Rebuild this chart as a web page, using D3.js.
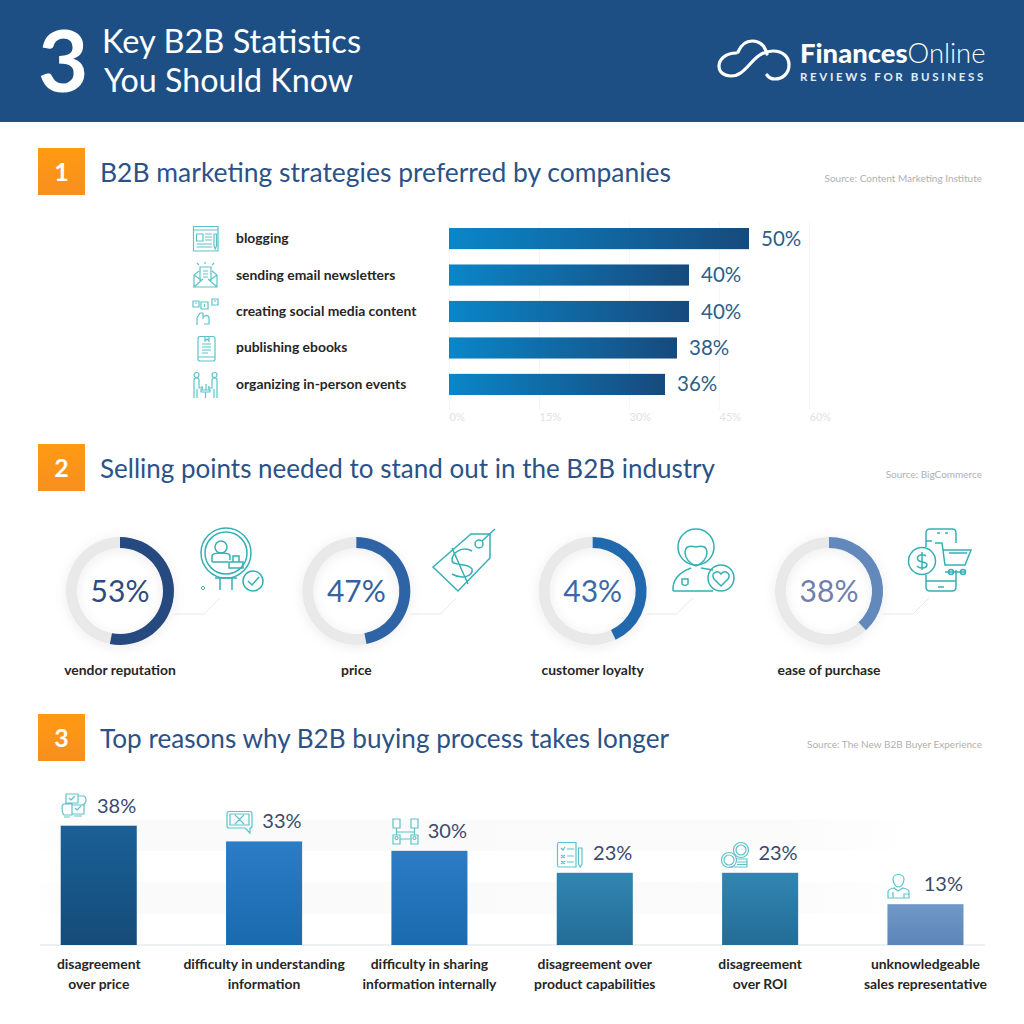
<!DOCTYPE html>
<html>
<head>
<meta charset="utf-8">
<script src="https://d3js.org/d3.v7.min.js"></script>
<style>
  html, body { margin: 0; padding: 0; background: #fff; }
  svg { display: block; font-family: Lato, "Open Sans", sans-serif; }
  .cat { font-size: 13.9px; font-weight: 700; fill: #262626; }
  .title { font-size: 27.5px; fill: #2b5287; }
  .source { font-size: 10px; fill: #b0b0b0; text-anchor: end; }
  .icon * { fill: none; stroke: #5cc3c9; stroke-width: 1.2; }
  .bigicon * { fill: none; stroke: #35b0b4; stroke-width: 1.5; }
</style>
</head>
<body>
<svg id="chart" width="1024" height="1024"></svg>
<script>
// section 1
var strategyLabels = ['blogging', 'sending email newsletters', 'creating social media content', 'publishing ebooks', 'organizing in-person events'];
var strategyValues = [50, 40, 40, 38, 36];
var strategyTicks = [0, 15, 30, 45, 60];

// section 2
var pointLabels = ['vendor reputation', 'price', 'customer loyalty', 'ease of purchase'];
var pointValues = [53, 47, 43, 38];
var pointColors = ['#27487f', '#2d64a6', '#2468ad', '#6489bc'];
var pointTextColors = ['#2f4a7c', '#35619e', '#3b6aa6', '#6f80ae'];

// section 3
var reasonLines = [
  ['disagreement', 'over price'],
  ['difficulty in understanding', 'information'],
  ['difficulty in sharing', 'information internally'],
  ['disagreement over', 'product capabilities'],
  ['disagreement', 'over ROI'],
  ['unknowledgeable', 'sales representative']
];
var reasonValues = [38, 33, 30, 23, 23, 13];
var reasonColors = [['#1a6096', '#154b78'], ['#2c7cc6', '#1a6aae'], ['#2c7cc6', '#1a6aae'], ['#3285b2', '#236d96'], ['#3285b2', '#236d96'], ['#7199c8', '#5c84b6']];
var stripeBands = [[40, 30], [20, 10]];

var sections = [
  { n: '1', title: 'B2B marketing strategies preferred by companies', width: 571, source: 'Source: Content Marketing Institute', y: 148 },
  { n: '2', title: 'Selling points needed to stand out in the B2B industry', width: 615, source: 'Source: BigCommerce', y: 444 },
  { n: '3', title: 'Top reasons why B2B buying process takes longer', width: 569, source: 'Source: The New B2B Buyer Experience', y: 714 }
];

var svg = d3.select('#chart');
var defs = svg.append('defs');

function gradient(id, c0, c1, vertical) {
  var g = defs.append('linearGradient').attr('id', id)
    .attr('x1', 0).attr('y1', 0)
    .attr('x2', vertical ? 0 : 1).attr('y2', vertical ? 1 : 0);
  g.append('stop').attr('offset', 0).attr('stop-color', c0);
  g.append('stop').attr('offset', 1).attr('stop-color', c1);
}

gradient('hbar', '#0a86c8', '#174a7c');
gradient('orange', '#ff9a12', '#f78f1e', true);
reasonColors.forEach(function(c, i) { gradient('col' + i, c[0], c[1], true); });
var stripeGrad = defs.append('linearGradient').attr('id', 'stripe');
stripeGrad.append('stop').attr('offset', 0).attr('stop-color', '#ffffff');
stripeGrad.append('stop').attr('offset', 0.08).attr('stop-color', '#fafafb');
stripeGrad.append('stop').attr('offset', 0.85).attr('stop-color', '#fbfbfb');
stripeGrad.append('stop').attr('offset', 1).attr('stop-color', '#ffffff');
defs.append('filter').attr('id', 'soft').attr('x', '-30%').attr('y', '-30%').attr('width', '160%').attr('height', '160%')
  .append('feDropShadow').attr('dx', 0).attr('dy', 2).attr('stdDeviation', 6).attr('flood-color', '#000').attr('flood-opacity', 0.08);

drawHeader();
sections.forEach(drawSectionHead);
drawStrategies();
drawPoints();
drawReasons();

function drawHeader() {
  var h = svg.append('g');
  h.append('rect').attr('width', 1024).attr('height', 122).attr('fill', '#1d4f85');
  h.append('text').attr('x', 38).attr('y', 92).attr('font-size', 87).attr('font-weight', 700).attr('fill', '#fff').text('3');
  h.append('text').attr('x', 102).attr('y', 53).attr('font-size', 33).attr('textLength', 259).attr('lengthAdjust', 'spacingAndGlyphs').attr('fill', '#fff').text('Key B2B Statistics');
  h.append('text').attr('x', 104).attr('y', 92).attr('font-size', 33).attr('textLength', 249).attr('lengthAdjust', 'spacingAndGlyphs').attr('fill', '#fff').text('You Should Know');

  var cloud = h.append('g').attr('fill', 'none').attr('stroke', '#fff').attr('stroke-width', 3.2).attr('stroke-linecap', 'round');
  cloud.append('path').attr('d', 'M736 53C725 53 719 60 719 66C719 73 725 76 731 76C748 76 752 51 773 51C783 51 789 57 789 65C789 73 783 79 775 79C772 79 769 78 767 75');
  cloud.append('path').attr('d', 'M738 52C741 45 746 41 752 41C760 41 765 46 767 54');

  var brand = h.append('text').attr('x', 800).attr('y', 63).attr('font-size', 27.4).attr('fill', '#fff');
  brand.append('tspan').attr('font-weight', 900).text('Finances');
  brand.append('tspan').attr('font-weight', 300).text('Online');
  h.append('text').attr('x', 800).attr('y', 81).attr('font-size', 11.5).attr('font-weight', 700).attr('letter-spacing', 2.65).attr('fill', '#e4ecf4').text('REVIEWS FOR BUSINESS');
}

function drawSectionHead(s) {
  var g = svg.append('g');
  g.append('rect').attr('x', 38).attr('y', s.y).attr('width', 47).attr('height', 47).attr('fill', 'url(#orange)');
  g.append('text').attr('x', 61.5).attr('y', s.y + 33).attr('text-anchor', 'middle').attr('font-size', 25).attr('font-weight', 700).attr('fill', '#fff').text(s.n);
  g.append('text').attr('class', 'title').attr('x', 100).attr('y', s.y + 34)
    .attr('textLength', s.width).attr('lengthAdjust', 'spacingAndGlyphs').text(s.title);
  g.append('text').attr('class', 'source').attr('x', 982).attr('y', s.y + 34).text(s.source);
}

function drawStrategies() {
  var x = d3.scaleLinear().domain([0, 60]).range([449, 809]);
  var y = d3.scaleBand().domain(strategyLabels).range([228, 395]).paddingInner(0.42);

  var axis = d3.axisBottom(x).tickValues(strategyTicks).tickSize(-188).tickFormat(function(d) { return d + '%'; });
  var ax = svg.append('g').attr('transform', 'translate(0,410)').call(axis);
  ax.select('.domain').remove();
  ax.selectAll('line').attr('stroke', '#f6f6f6');
  ax.selectAll('text').attr('text-anchor', 'start').attr('font-family', 'Lato').attr('font-size', 11).attr('fill', '#e2e2e2').attr('y', 3).attr('dy', '0.71em');

  svg.selectAll('.hbar').data(strategyValues).enter().append('rect')
    .attr('class', 'hbar')
    .attr('x', x(0))
    .attr('y', function(d, i) { return y(strategyLabels[i]); })
    .attr('width', function(d) { return x(d) - x(0); })
    .attr('height', y.bandwidth())
    .attr('fill', 'url(#hbar)');

  svg.selectAll('.hval').data(strategyValues).enter().append('text')
    .attr('x', function(d) { return x(d) + 12; })
    .attr('y', function(d, i) { return y(strategyLabels[i]) + y.bandwidth() / 2 + 7; })
    .attr('font-size', 20.5).attr('fill', '#2c5f8c')
    .text(function(d) { return d + '%'; });

  svg.selectAll('.hcat').data(strategyLabels).enter().append('text')
    .attr('class', 'cat')
    .attr('x', 236)
    .attr('y', function(d) { return y(d) + y.bandwidth() / 2 + 4.5; })
    .text(function(d) { return d; });

  smallIcons([
    [193, 226, iconBlog], [193, 262, iconMail], [193, 299, iconSocial], [193, 336, iconBook], [193, 372, iconEvent]
  ]);
}

function drawPoints() {
  var cx = d3.scalePoint().domain(pointLabels).range([120, 829]);
  var arc = d3.arc().innerRadius(43).outerRadius(54);
  var pie = d3.pie().sort(null).value(function(d) { return d; });

  pointLabels.forEach(function(label, i) {
    var g = svg.append('g').attr('transform', 'translate(' + cx(label) + ',591)');
    var v = pointValues[i];
    var slices = pie([v, 100 - v]);
    var ring = g.append('g').attr('filter', 'url(#soft)');
    ring.append('path').datum(slices[1]).attr('d', arc).attr('fill', '#e9e9ea');
    ring.append('path').datum(slices[0]).attr('d', arc).attr('fill', pointColors[i]);
    g.append('text').attr('text-anchor', 'middle').attr('y', 11).attr('font-size', 30).attr('fill', pointTextColors[i]).text(v + '%');
    g.append('text').attr('class', 'cat').attr('text-anchor', 'middle').attr('y', 84).text(label);
    g.append('path').attr('d', 'M54 23H84L100 7').attr('fill', 'none').attr('stroke', '#e6e8ea').attr('stroke-width', 1);
  });

  var big = svg.append('g').attr('class', 'bigicon');
  iconLens(big);
  iconTag(big);
  iconLoyal(big);
  iconCart(big);
}

function drawReasons() {
  var x = d3.scaleBand().domain(d3.range(reasonValues.length)).range([60.7, 963.5]).paddingInner(0.54);
  var y = d3.scaleLinear().domain([0, 38]).range([945, 825.7]);

  svg.selectAll('.stripe').data(stripeBands).enter().append('rect')
    .attr('x', 30).attr('width', 890)
    .attr('y', function(d) { return y(d[0]); })
    .attr('height', function(d) { return y(d[1]) - y(d[0]); })
    .attr('fill', 'url(#stripe)');

  svg.append('line').attr('x1', 40).attr('x2', 985).attr('y1', y(0)).attr('y2', y(0)).attr('stroke', '#e6ecf1').attr('stroke-width', 1.5);

  svg.selectAll('.col').data(reasonValues).enter().append('rect')
    .attr('class', 'col')
    .attr('x', function(d, i) { return x(i); })
    .attr('y', function(d) { return y(d); })
    .attr('width', x.bandwidth())
    .attr('height', function(d) { return y(0) - y(d); })
    .attr('fill', function(d, i) { return 'url(#col' + i + ')'; });

  svg.selectAll('.cval').data(reasonValues).enter().append('text')
    .attr('x', function(d, i) { return x(i) + x.bandwidth() - 0.5; })
    .attr('y', function(d) { return y(d) - 13; })
    .attr('text-anchor', 'end').attr('font-size', 20).attr('fill', '#3a4a6c')
    .text(function(d) { return d + '%'; });

  reasonLines.forEach(function(lines, i) {
    lines.forEach(function(line, j) {
      svg.append('text').attr('class', 'cat').attr('text-anchor', 'middle')
        .attr('x', x(i) + x.bandwidth() / 2)
        .attr('y', 969 + j * 20)
        .text(line);
    });
  });

  smallIcons([
    [62, 793, iconMeeting], [227, 811, iconChat], [392, 819, iconNodes],
    [557, 842, iconList], [722, 842, iconCoins], [888, 873, iconAgent]
  ]);
}

function smallIcons(list) {
  list.forEach(function(d) {
    var g = svg.append('g').attr('class', 'icon').attr('transform', 'translate(' + d[0] + ',' + d[1] + ')');
    d[2](g);
  });
}

function p(g, d) { return g.append('path').attr('d', d); }
function c(g, x, y, r) { return g.append('circle').attr('cx', x).attr('cy', y).attr('r', r); }

// small icons, drawn in their own 25px box
function iconBlog(g) {
  p(g, 'M.5 .5H25V25H.5ZM.5 4H25M3.5 8H10V15H3.5ZM12 8H19M12 11H19M12 14H19M3.5 18H19M3.5 21H19M21 8H23.5V20L22.2 23L21 20Z');
}
function iconMail(g) {
  p(g, 'M1 25V13L6 9M24 13V25H1L10 17M24 25L15 17M1 13L8 18M24 13L17 18M19 9L24 13M7 20V5H18V20M10 9H15M10 12H15M10 15H15M12 0V2M4 1L6 3M21 1L19 3');
}
function iconSocial(g) {
  p(g, 'M0 2H6V8H0ZM8 3H15V10H8ZM19 0H25V6H19ZM4 26V19L7 14H10V20M10 18C12 16 16 16 16 19V25H11M11.5 5V8M2 4H4M21 2H23');
}
function iconBook(g) {
  p(g, 'M7 .5H20Q22 .5 22 3V23Q22 25 20 25H7Q5 25 5 23V3Q5 .5 7 .5ZM5 21H22M9 8H18M9 11H18M9 14H18M9 17H15M12 0V5L14 3L16 5V0');
}
function iconEvent(g) {
  c(g, 3.5, 3, 2.5); c(g, 21.5, 3, 2.5);
  p(g, 'M1 26V8Q1 6 3.5 6Q6 6 6 8V16H10M24 26V8Q24 6 21.5 6Q19 6 19 8V16H15M4 26V17M21 26V17M8 18H17V20H8ZM12.5 20V26M9 14V18M13 12V18M16 14V18');
}
function iconMeeting(g) {
  p(g, 'M4 1H16V10H4ZM16 3H21Q24 3 24 7Q24 11 20 12M0 14Q0 10 5 11H10V22H2Q0 20 0 14ZM10 12H22V21H10ZM2 24H8M12 23H20M7 5L9 7L13 3M13 15L15 17L19 13');
}
function iconChat(g) {
  p(g, 'M2 .5H23Q25 .5 25 3V15Q25 17 23 17H23V22L18 17H2Q0 17 0 15V3Q0 .5 2 .5ZM3 3H22V14H3ZM8 4L17 13M17 4L8 13');
}
function iconNodes(g) {
  p(g, 'M1 0H8V9H1ZM19 0H26V9H19ZM1 16H8V25H1ZM19 16H26V25H19ZM8 20H19M4.5 9V16M22.5 9V16M4.5 13H22.5');
  c(g, 4.5, 19, 1.5); c(g, 22.5, 19, 1.5);
}
function iconList(g) {
  p(g, 'M2 .5H19V25H2Q.5 25 .5 23V2Q.5 .5 2 .5ZM4 6L6 8L8 5M10 7H17M4 13L8 16M8 13L4 16M10 14H17M4 19L8 22M8 19L4 22M10 20H17M21.5 6H25V22L23.2 25L21.5 22Z');
}
function iconCoins(g) {
  c(g, 19, 8, 7.5); c(g, 19, 8, 5);
  c(g, 7, 18, 7.5); c(g, 7, 18, 5);
  p(g, 'M14 17H25V25H7M15 20H25M15 22.5H25');
}
function iconAgent(g) {
  p(g, 'M5 6C5 0 16 0 16 6C16 11 13 14 10.5 14C8 14 5 11 5 6ZM0 25V19Q0 16 6 15L10 18L15 15Q21 16 21 19V25ZM5 19V25M16 21H21V25H16Z');
}

// big icons for the selling points, in page coordinates
function iconLens(g) {
  c(g, 226, 553, 25); c(g, 226, 553, 21);
  c(g, 221, 547, 6);
  p(g, 'M212 562V556Q212 553 221 553Q230 553 230 556V560M212 562H228M233 556H239V562H233ZM229 562H243V568H229ZM220 578V590M232 578V590M215 578H237');
  c(g, 253, 581, 10);
  p(g, 'M248 581L252 585L259 577');
  p(g, 'M203 586L205 588L203 590L201 588Z').style('stroke-width', 1);
}
function iconTag(g) {
  p(g, 'M433 567L471 534L490 534L490 558L458 591Z');
  c(g, 479, 544, 4);
  p(g, 'M482 541L495 529M472 551C463 546 452 552 452 560C452 567 468 562 472 569C474 576 462 580 452 574M452 548L468 584');
}
function iconLoyal(g) {
  c(g, 696, 547, 18);
  p(g, 'M685 553Q685 544 696 547Q707 544 707 553Q706 562 696 566Q686 562 685 553ZM673 591Q672 575 691 568M701 568L713 570M673 591H713');
  p(g, 'M682 579H688V584Q685 587 682 584Z');
  c(g, 721, 578, 13);
  p(g, 'M721 586L714 579Q711 574 716 572Q719 571 721 574Q723 571 726 572Q731 574 728 579Z');
}
function iconCart(g) {
  p(g, 'M926 547V533Q926 529 930 529H952Q956 529 956 533V543M956 570V587Q956 591 952 591H930Q926 591 926 587V575M937 533H940M945 533H948M938 587H944M926 541H932M926 581H956');
  c(g, 922, 561, 13.5);
  p(g, 'M926 556C921 553 916 556 918 560C920 563 927 561 927 565C926 569 920 569 917 566M922 552V570');
  p(g, 'M935 543H942L945 565H965L971 550H943M945 572H965M949 553H967');
  c(g, 951, 572, 2.5); c(g, 963, 572, 2.5);
}
</script>
</body>
</html>
